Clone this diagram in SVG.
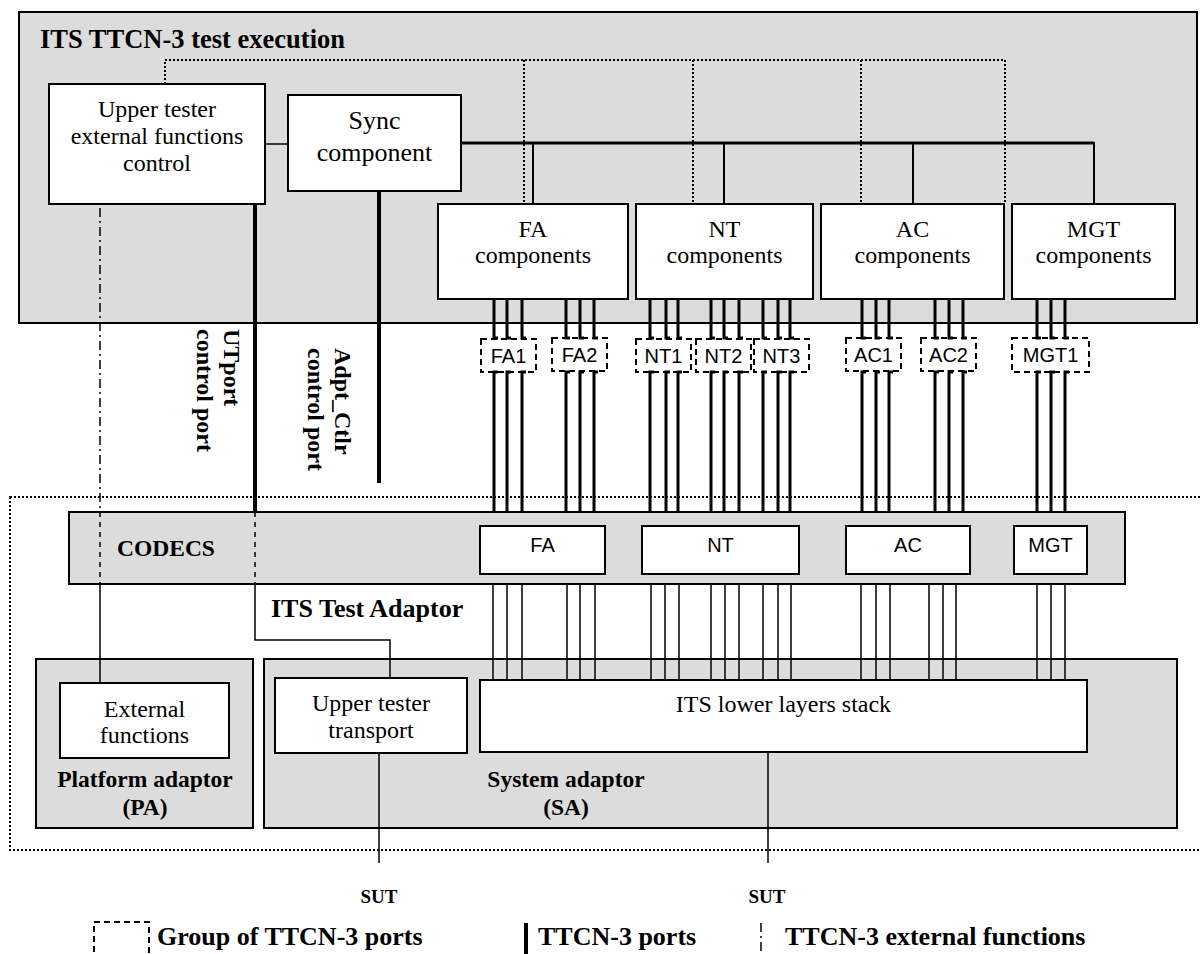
<svg xmlns="http://www.w3.org/2000/svg" width="1200" height="954" viewBox="0 0 1200 954">
<style>
.serif{font-family:"Liberation Serif","Times New Roman",serif;fill:#000}
.b{font-weight:bold}
.sans{font-family:"Liberation Sans",Arial,sans-serif;fill:#000;font-size:20px}
.mid{text-anchor:middle}
.box{fill:#fff;stroke:#000;stroke-width:2}
.gray{fill:#dcdcdc;stroke:#000;stroke-width:2}
.grp{fill:none;stroke:#000;stroke-width:2;stroke-dasharray:6 4}
.dot{fill:none;stroke:#000;stroke-width:2;stroke-dasharray:2 2}
.port{fill:none;stroke:#000;stroke-width:3}
.thin{fill:none;stroke:#000;stroke-width:1.5}
.dashdot{fill:none;stroke:#000;stroke-width:1.5;stroke-dasharray:9 4 2 4}
.dash{fill:none;stroke:#000;stroke-width:1.5;stroke-dasharray:5 5}
</style>

<g id="test-execution">
<rect class="gray" x="19" y="12" width="1178" height="311"/>
<text class="serif b" x="40" y="48" font-size="26.5">ITS TTCN-3 test execution</text>
</g>

<g id="test-adaptor">
<rect class="dot" x="10" y="497" width="1200" height="353"/>
<text class="serif b" x="271" y="617" font-size="26">ITS Test Adaptor</text>
</g>

<g id="codecs">
<rect class="gray" x="69" y="512" width="1056" height="72"/>
<text class="serif b" x="117" y="556" font-size="23.5">CODECS</text>
</g>

<g id="platform-adaptor">
<rect class="gray" x="36" y="659" width="217" height="169" stroke-width="1.5"/>
<text class="serif b mid" x="145" y="787" font-size="23.5">Platform adaptor</text>
<text class="serif b mid" x="145" y="815" font-size="23.5">(PA)</text>
</g>

<g id="system-adaptor">
<rect class="gray" x="264" y="659" width="913" height="169" stroke-width="1.5"/>
<text class="serif b mid" x="566" y="787" font-size="23.5">System adaptor</text>
<text class="serif b mid" x="566" y="815" font-size="23.5">(SA)</text>
</g>

<g id="connectors">
<path class="dot" d="M165 84 V60 H1005 V204 M524 60 V204 M693 60 V204 M861 60 V204"/>
<path class="thin" d="M265 144 H288"/>
<path fill="none" stroke="#000" stroke-width="3" d="M461 143 H1094"/>
<path fill="none" stroke="#000" stroke-width="2" d="M533 143 V204 M724 143 V204 M913 143 V204 M1094 142 V204"/>
<path fill="none" stroke="#000" stroke-width="4" d="M255 204 V512"/>
<path class="dash" d="M255 512 V584"/>
<path class="thin" d="M255 584 V640 H390 V678"/>
<path fill="none" stroke="#000" stroke-width="4" d="M379 191 V483"/>
<path class="dashdot" d="M100 208 V512"/>
<path class="dash" d="M100 512 V584"/>
<path class="thin" d="M100 584 V683"/>
<path class="port" d="M494 299 V338 h4 M507 299 V338 h4 M522 299 V338 h4
M566 299 V338 h4 M580 299 V338 h4 M594 299 V338 h4
M650 299 V338 h4 M666 299 V338 h4 M678 299 V338 h4
M711 299 V338 h4 M724 299 V338 h4 M739 299 V338 h4
M763 299 V338 h4 M778 299 V338 h4 M790 299 V338 h4
M862 299 V338 h4 M876 299 V338 h4 M889 299 V338 h4
M935 299 V338 h4 M949 299 V338 h4 M963 299 V338 h4
M1037 299 V338 h4 M1051 299 V338 h4 M1065 299 V338 h4"/>
<path class="port" d="M498 372 h-4 V512 M511 372 h-4 V512 M526 372 h-4 V512
M570 372 h-4 V512 M584 372 h-4 V512 M598 372 h-4 V512
M654 372 h-4 V512 M670 372 h-4 V512 M682 372 h-4 V512
M715 372 h-4 V512 M728 372 h-4 V512 M743 372 h-4 V512
M767 372 h-4 V512 M782 372 h-4 V512 M794 372 h-4 V512
M866 372 h-4 V512 M880 372 h-4 V512 M893 372 h-4 V512
M939 372 h-4 V512 M953 372 h-4 V512 M967 372 h-4 V512
M1041 372 h-4 V512 M1055 372 h-4 V512 M1069 372 h-4 V512"/>
<path class="thin" d="M493 584 V681 M507 584 V681 M522 584 V681 M567 584 V681 M580 584 V681 M595 584 V681
M651 584 V681 M665 584 V681 M679 584 V681 M711 584 V681 M725 584 V681 M739 584 V681
M763 584 V681 M778 584 V681 M791 584 V681
M861 584 V681 M876 584 V681 M890 584 V681 M929 584 V681 M943 584 V681 M956 584 V681
M1037 584 V681 M1051 584 V681 M1065 584 V681"/>
<path class="thin" d="M379 753 V863 M768 752 V863"/>
</g>

<g id="upper-tester-control">
<rect class="box" x="49" y="84" width="216" height="120"/>
<text class="serif mid" x="157" y="117" font-size="24">Upper tester</text>
<text class="serif mid" x="157" y="144" font-size="24">external functions</text>
<text class="serif mid" x="157" y="171" font-size="24">control</text>
</g>

<g id="sync-component">
<rect class="box" x="288" y="95" width="173" height="96"/>
<text class="serif mid" x="374.5" y="129" font-size="26">Sync</text>
<text class="serif mid" x="374.5" y="161" font-size="26">component</text>
</g>

<g id="fa-components">
<rect class="box" x="438" y="204" width="190" height="95"/>
<text class="serif mid" x="533" y="237" font-size="24">FA</text>
<text class="serif mid" x="533" y="263" font-size="24">components</text>
</g>
<g id="nt-components">
<rect class="box" x="636" y="204" width="177" height="95"/>
<text class="serif mid" x="724.5" y="237" font-size="24">NT</text>
<text class="serif mid" x="724.5" y="263" font-size="24">components</text>
</g>
<g id="ac-components">
<rect class="box" x="821" y="204" width="183" height="95"/>
<text class="serif mid" x="912.5" y="237" font-size="24">AC</text>
<text class="serif mid" x="912.5" y="263" font-size="24">components</text>
</g>
<g id="mgt-components">
<rect class="box" x="1012" y="204" width="163" height="95"/>
<text class="serif mid" x="1093.5" y="237" font-size="24">MGT</text>
<text class="serif mid" x="1093.5" y="263" font-size="24">components</text>
</g>

<g id="port-fa1"><rect class="grp" x="481" y="339" width="55" height="33"/><text class="sans mid" x="508.5" y="363">FA1</text></g>
<g id="port-fa2"><rect class="grp" x="552" y="338" width="55" height="33"/><text class="sans mid" x="579.5" y="362">FA2</text></g>
<g id="port-nt1"><rect class="grp" x="636" y="339" width="55" height="33"/><text class="sans mid" x="663.5" y="363">NT1</text></g>
<g id="port-nt2"><rect class="grp" x="696" y="339" width="55" height="33"/><text class="sans mid" x="723.5" y="363">NT2</text></g>
<g id="port-nt3"><rect class="grp" x="754" y="339" width="55" height="33"/><text class="sans mid" x="781.5" y="363">NT3</text></g>
<g id="port-ac1"><rect class="grp" x="846" y="338" width="55" height="33"/><text class="sans mid" x="873.5" y="362">AC1</text></g>
<g id="port-ac2"><rect class="grp" x="921" y="338" width="55" height="33"/><text class="sans mid" x="948.5" y="362">AC2</text></g>
<g id="port-mgt1"><rect class="grp" x="1012" y="338" width="77" height="34"/><text class="sans mid" x="1050.5" y="362">MGT1</text></g>

<g id="utport-label">
<text class="serif b" font-size="24" transform="translate(224,329) rotate(90)"><tspan x="0" y="0">UTport</tspan><tspan x="0" y="27">control port</tspan></text>
</g>
<g id="adpt-ctlr-label">
<text class="serif b" font-size="24" transform="translate(335,348) rotate(90)"><tspan x="0" y="0">Adpt_Ctlr</tspan><tspan x="0" y="27">control port</tspan></text>
</g>

<g id="codec-fa"><rect class="box" x="480" y="526" width="125" height="48"/><text class="sans mid" x="542.5" y="552">FA</text></g>
<g id="codec-nt"><rect class="box" x="642" y="526" width="157" height="48"/><text class="sans mid" x="720.5" y="552">NT</text></g>
<g id="codec-ac"><rect class="box" x="846" y="526" width="124" height="48"/><text class="sans mid" x="908" y="552">AC</text></g>
<g id="codec-mgt"><rect class="box" x="1014" y="526" width="73" height="48"/><text class="sans mid" x="1050.5" y="552">MGT</text></g>

<g id="external-functions">
<rect class="box" x="60" y="683" width="169" height="75"/>
<text class="serif mid" x="144.5" y="717" font-size="24">External</text>
<text class="serif mid" x="144.5" y="743" font-size="24">functions</text>
</g>

<g id="upper-tester-transport">
<rect class="box" x="275" y="678" width="192" height="75"/>
<text class="serif mid" x="371" y="711" font-size="24">Upper tester</text>
<text class="serif mid" x="371" y="738" font-size="24">transport</text>
</g>

<g id="lower-layers-stack">
<rect class="box" x="480" y="680" width="607" height="72"/>
<text class="serif mid" x="783.5" y="712" font-size="24">ITS lower layers stack</text>
</g>

<g id="sut-labels">
<text class="serif b mid" x="379" y="903" font-size="19">SUT</text>
<text class="serif b mid" x="767" y="903" font-size="19">SUT</text>
</g>

<g id="legend">
<rect class="grp" x="94" y="922" width="55" height="60"/>
<text class="serif b" x="157" y="945" font-size="26">Group of TTCN-3 ports</text>
<path fill="none" stroke="#000" stroke-width="4" d="M526 923 V954"/>
<text class="serif b" x="538" y="945" font-size="26">TTCN-3 ports</text>
<path class="dashdot" d="M761 923 V954"/>
<text class="serif b" x="785" y="945" font-size="26">TTCN-3 external functions</text>
</g>
</svg>
